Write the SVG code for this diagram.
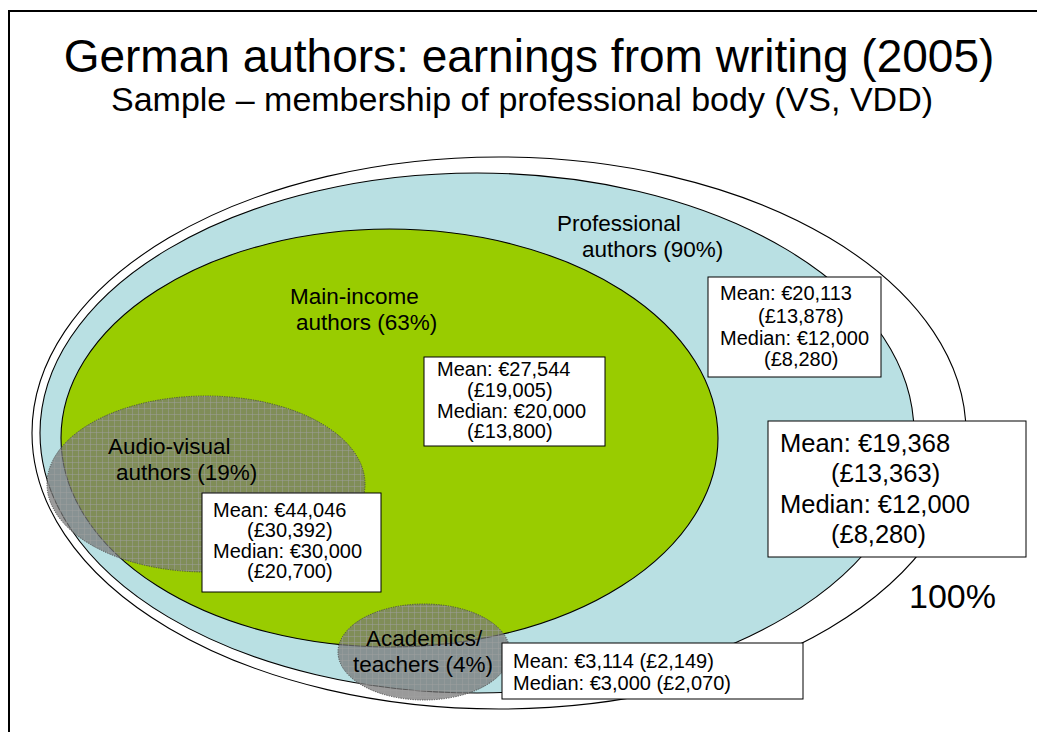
<svg xmlns="http://www.w3.org/2000/svg" width="1037" height="732" viewBox="0 0 1037 732">
  <defs>
    <!-- checked grey fill used by the two overlapping groups -->
    <pattern id="grid" width="6" height="6" patternUnits="userSpaceOnUse">
      <rect width="6" height="6" fill="#777" fill-opacity="0.74"/>
      <path d="M0 0.5H6M0.5 0V6" stroke="#a0a0a0" stroke-width="0.8" stroke-opacity="0.6" fill="none"/>
    </pattern>
  </defs>
  <style>
    text { font-family: "Liberation Sans", Arial, sans-serif; fill: #000; }
    .lbl { font-size: 22.5px; }
    .small { font-size: 20px; }
    .big { font-size: 25.5px; }
    .box { fill: #fff; stroke: #000; stroke-width: 1; }
    .set { stroke: #000; stroke-width: 1.1; }
    .sub { fill: url(#grid); stroke: #4a4a4a; stroke-width: 1; stroke-dasharray: 1.2 1.2; }
  </style>

  <rect width="1037" height="732" fill="#fff"/>
  <!-- slide frame -->
  <rect x="9" y="11" width="1060" height="760" fill="none" stroke="#000" stroke-width="2"/>

  <g id="title">
    <text x="529" y="72" font-size="46" text-anchor="middle">German authors: earnings from writing (2005)</text>
    <text x="522" y="111" font-size="34" text-anchor="middle">Sample – membership of professional body (VS, VDD)</text>
  </g>

  <g id="all-authors">
    <ellipse class="set" cx="499" cy="433" rx="467" ry="276" fill="#fff"/>
  </g>

  <g id="professional">
    <ellipse class="set" cx="477" cy="433" rx="437" ry="260" fill="#b9e0e3"/>
    <text class="lbl" x="557" y="231">Professional</text>
    <text class="lbl" x="582" y="257">authors (90%)</text>
  </g>

  <g id="main-income">
    <ellipse class="set" cx="389.5" cy="438" rx="328.5" ry="209" fill="#99cc00"/>
    <text class="lbl" x="290" y="304">Main-income</text>
    <text class="lbl" x="296" y="330">authors (63%)</text>
  </g>

  <g id="professional-stats">
    <rect class="box" x="708" y="277" width="173" height="100"/>
    <text class="small" x="720" y="300">Mean: €20,113</text>
    <text class="small" x="758" y="323">(£13,878)</text>
    <text class="small" x="720" y="345">Median: €12,000</text>
    <text class="small" x="764" y="366">(£8,280)</text>
  </g>

  <g id="main-income-stats">
    <rect class="box" x="424" y="357" width="181" height="89"/>
    <text class="small" x="437" y="376">Mean: €27,544</text>
    <text class="small" x="467" y="397">(£19,005)</text>
    <text class="small" x="437" y="418">Median: €20,000</text>
    <text class="small" x="467" y="438">(£13,800)</text>
  </g>

  <g id="audio-visual">
    <ellipse class="sub" cx="206" cy="484" rx="159" ry="88"/>
    <text class="lbl" x="108" y="454">Audio-visual</text>
    <text class="lbl" x="116" y="480">authors (19%)</text>
  </g>

  <g id="audio-visual-stats">
    <rect class="box" x="202" y="493" width="179" height="99"/>
    <text class="small" x="213" y="517">Mean: €44,046</text>
    <text class="small" x="247" y="537">(£30,392)</text>
    <text class="small" x="213" y="558">Median: €30,000</text>
    <text class="small" x="247" y="578">(£20,700)</text>
  </g>

  <g id="academics">
    <ellipse class="sub" cx="424" cy="652" rx="86" ry="48"/>
    <text class="lbl" x="366" y="646">Academics/</text>
    <text class="lbl" x="353" y="672">teachers (4%)</text>
  </g>

  <g id="academics-stats">
    <rect class="box" x="502" y="643" width="301" height="56"/>
    <text class="small" x="513" y="668">Mean: €3,114 (£2,149)</text>
    <text class="small" x="513" y="690">Median: €3,000 (£2,070)</text>
  </g>

  <g id="overall-stats">
    <rect class="box" x="768" y="421" width="258" height="136"/>
    <text class="big" x="780" y="452">Mean: €19,368</text>
    <text class="big" x="831" y="482">(£13,363)</text>
    <text class="big" x="780" y="513">Median: €12,000</text>
    <text class="big" x="831" y="543">(£8,280)</text>
  </g>

  <g id="total-label">
    <text x="909" y="608" font-size="34">100%</text>
  </g>

  <g id="connectors"/>
</svg>
